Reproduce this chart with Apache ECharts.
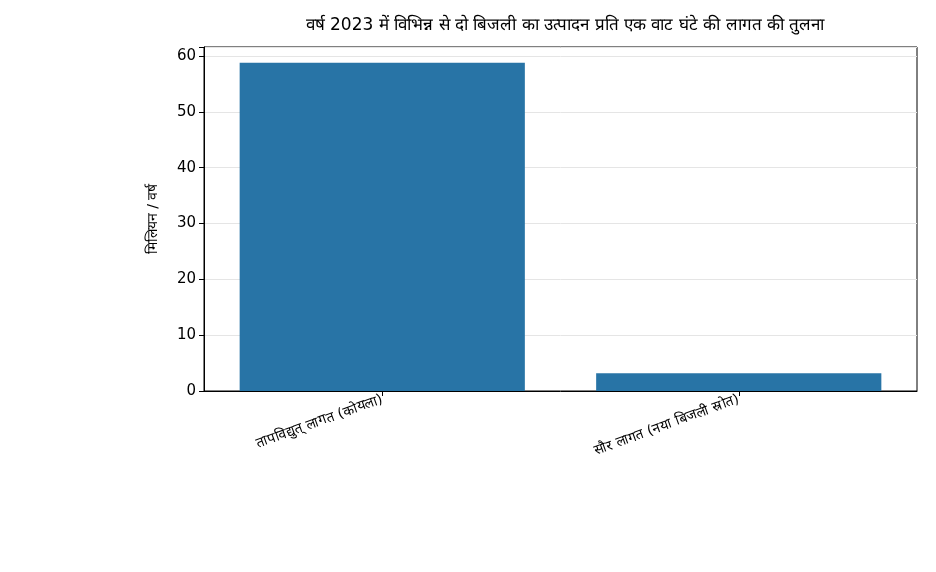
<!DOCTYPE html>
<html><head><meta charset="utf-8">
<script src="https://cdn.jsdelivr.net/npm/echarts@6/dist/echarts.min.js"></script>
<style>html,body{margin:0;padding:0;background:#fff}#c{width:936px;height:572px}</style>
</head><body><div id="c"></div>
<script>
const titleText = "वर्ष 2023 में विभिन्न से दो बिजली का उत्पादन प्रति एक वाट घंटे की लागत की तुलना";
const yAxisName = "मिलियन / वर्ष";
const categories = ["तापविद्युत् लागत (कोयला)", "सौर लागत (नया बिजली स्रोत)"];
const values = [58.8, 3.2];
const yTicks = [0, 10, 20, 30, 40, 50, 60];

const chart = echarts.init(document.getElementById('c'), null, {renderer: 'canvas'});
const font = 'DejaVu Sans, sans-serif';
chart.setOption({
  animation: false,
  title: {
    text: titleText, left: 560, top: 12, textAlign: 'center',
    textStyle: {fontFamily: font, fontSize: 17, fontWeight: 'normal', color: '#000'}
  },
  grid: {left: 204, right: 19, top: 47, bottom: 181, show: true, borderColor: '#000', borderWidth: 1, backgroundColor: 'transparent'},
  xAxis: {
    type: 'category', data: categories,
    axisLine: {show: true, lineStyle: {color: '#000', width: 1}},
    axisTick: {show: true, alignWithLabel: true, length: 5, lineStyle: {color: '#000'}},
    axisLabel: {rotate: 20, fontFamily: font, fontSize: 14, color: '#000', margin: 8, interval: 0},
    splitLine: {show: false}
  },
  yAxis: {
    type: 'value', min: 0, max: 61.6, interval: 10,
    name: yAxisName, nameLocation: 'middle', nameGap: 44, nameRotate: 90,
    nameTextStyle: {fontFamily: font, fontSize: 14, color: '#000'},
    axisLine: {show: true, lineStyle: {color: '#000', width: 1}},
    axisTick: {show: true, length: 5, lineStyle: {color: '#000'}},
    axisLabel: {fontFamily: font, fontSize: 15, color: '#000', margin: 8,
      formatter: v => yTicks.includes(v) ? String(v) : ''},
    splitLine: {show: true, lineStyle: {color: '#e5e5e5', width: 1}}
  },
  series: [{
    type: 'bar', data: values, barWidth: '80%',
    itemStyle: {color: '#2874a6'}
  }]
});
</script></body></html>
